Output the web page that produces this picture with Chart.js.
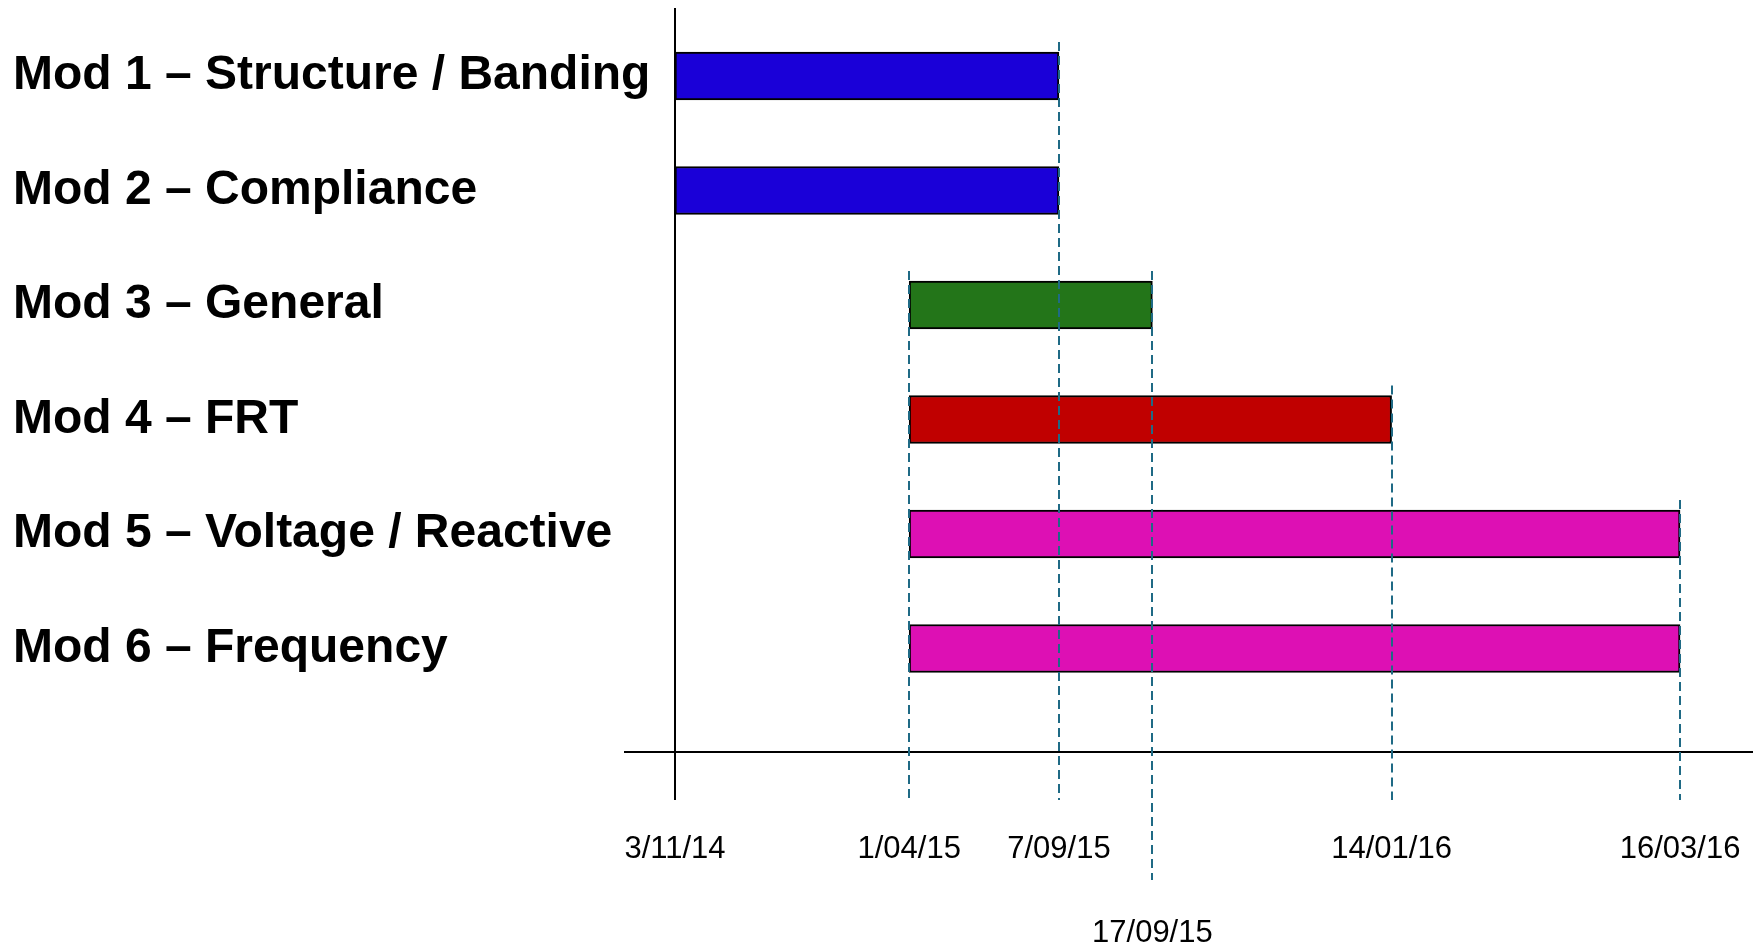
<!DOCTYPE html>
<html>
<head>
<meta charset="utf-8">
<title>Mod schedule</title>
<script src="https://cdn.jsdelivr.net/npm/chart.js@4.4.1/dist/chart.umd.min.js"></script>
<style>
    html, body { margin: 0; padding: 0; background: #FFFFFF; }
    .chart-box { position: relative; width: 1753px; height: 948px; }
</style>
</head>
<body>
<div class="chart-box"><canvas id="schedule"></canvas></div>
<script>
const tasks = [
    "Mod 1 – Structure / Banding",
    "Mod 2 – Compliance",
    "Mod 3 – General",
    "Mod 4 – FRT",
    "Mod 5 – Voltage / Reactive",
    "Mod 6 – Frequency"
];
const taskStart = ["3/11/14", "3/11/14", "1/04/15", "1/04/15", "1/04/15", "1/04/15"];
const taskEnd = ["7/09/15", "7/09/15", "17/09/15", "14/01/16", "16/03/16", "16/03/16"];
const taskColors = ["#1A00D8", "#1A00D8", "#237519", "#C00000", "#DD10B4", "#DD10B4"];

// the time axis is drawn schematic, not to scale: 0 = 3/11/14, 100 = 16/03/16
const milestones = ["3/11/14", "1/04/15", "7/09/15", "17/09/15", "14/01/16", "16/03/16"];
const milestonePos = [0, 23.3, 38.2, 47.5, 71.3, 100];

(function () {
    const fontFamily = "'Liberation Sans', Arial, Helvetica, sans-serif";
    const lowLabels = ["17/09/15"];

    Chart.defaults.font.family = fontFamily;
    Chart.defaults.color = "#000000";

    function posOf(label) {
        return milestonePos[milestones.indexOf(label)];
    }

    function line(ctx, x1, y1, x2, y2) {
        ctx.beginPath();
        ctx.moveTo(x1, y1);
        ctx.lineTo(x2, y2);
        ctx.stroke();
    }

    const milestoneLines = {
        id: "milestoneLines",
        afterDatasetsDraw(chart) {
            const ctx = chart.ctx;
            const area = chart.chartArea;
            const xScale = chart.scales.x;
            const bars = chart.getDatasetMeta(0).data;
            const axisY = xScale.top;
            ctx.save();
            ctx.lineWidth = 2;
            ctx.strokeStyle = "#000000";
            // time axis, starts a little left of the task axis
            line(ctx, area.left - 34, axisY, area.right, axisY);
            milestones.forEach((label, m) => {
                const x = Math.round(xScale.getPixelForValue(milestonePos[m]));
                const bottom = axisY + 48 + (lowLabels.includes(label) ? 80 : 0);
                if (m === 0) {
                    ctx.setLineDash([]);
                    ctx.strokeStyle = "#000000";
                    line(ctx, x, area.top, x, bottom);
                    return;
                }
                let top = Infinity;
                bars.forEach((bar, i) => {
                    if (taskStart[i] === label || taskEnd[i] === label) {
                        top = Math.min(top, bar.y - bar.height / 2);
                    }
                });
                ctx.setLineDash([9, 5]);
                ctx.strokeStyle = "#1F6A85";
                line(ctx, x, top - 10, x, bottom);
            });
            ctx.restore();
        }
    };

    const ctx = document.getElementById("schedule").getContext("2d");
    new Chart(ctx, {
        type: "bar",
        data: {
            datasets: [{
                data: tasks.map((t, i) => ({ x: [posOf(taskStart[i]), posOf(taskEnd[i])], y: i })),
                backgroundColor: taskColors,
                borderColor: "#000000",
                borderWidth: 2,
                borderSkipped: false,
                barThickness: 48
            }]
        },
        options: {
            indexAxis: "y",
            responsive: true,
            maintainAspectRatio: false,
            animation: false,
            layout: { padding: { top: 8, left: 13, right: 0, bottom: 0 } },
            plugins: {
                legend: { display: false },
                tooltip: { enabled: false }
            },
            scales: {
                x: {
                    type: "linear",
                    min: -1.69,
                    max: 107.26,
                    grid: { display: false, drawTicks: false },
                    border: { display: false },
                    afterBuildTicks(scale) {
                        scale.ticks = milestonePos.map((v) => ({ value: v }));
                    },
                    afterFit(scale) {
                        scale.height = 196;
                        scale.paddingLeft = 0;
                        scale.paddingRight = 0;
                    },
                    ticks: {
                        autoSkip: false,
                        maxRotation: 0,
                        minRotation: 0,
                        padding: 83,
                        color: "#000000",
                        font: { size: 31, lineHeight: "28px" },
                        callback(value, index) {
                            const label = milestones[index];
                            return lowLabels.includes(label) ? ["", "", "", label] : label;
                        }
                    }
                },
                y: {
                    type: "linear",
                    offset: false,
                    reverse: true,
                    min: -0.594,
                    max: 5.904,
                    grid: { display: false, drawTicks: false },
                    border: { display: false },
                    afterBuildTicks(scale) {
                        scale.ticks = tasks.map((t, i) => ({ value: i }));
                    },
                    afterFit(scale) {
                        scale.width = 645;
                        scale.paddingTop = 0;
                        scale.paddingBottom = 0;
                    },
                    ticks: {
                        crossAlign: "far",
                        color: "#000000",
                        font: { size: 48, weight: "bold" },
                        callback(value) {
                            return tasks[value];
                        }
                    }
                }
            }
        },
        plugins: [milestoneLines]
    });
})();
</script>
</body>
</html>
